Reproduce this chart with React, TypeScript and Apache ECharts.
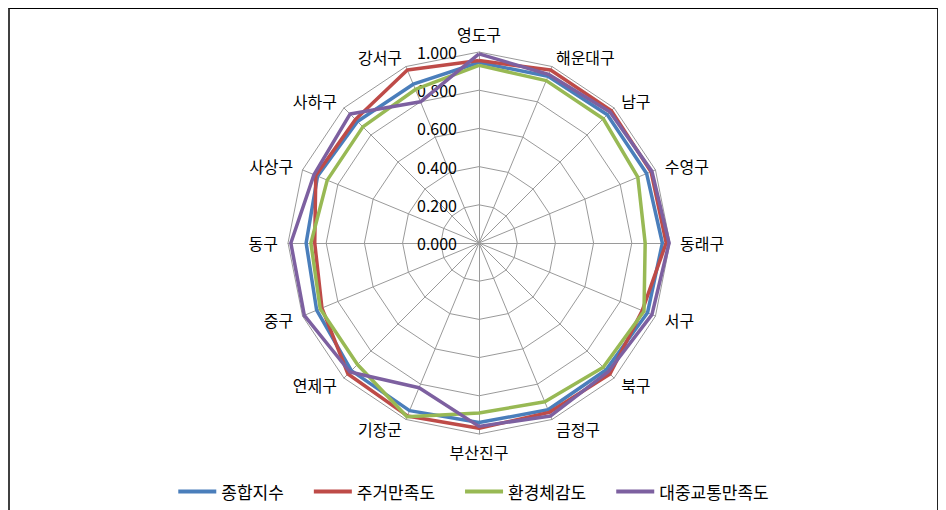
import React, { useEffect, useRef } from "react";
import * as echarts from "echarts";

// Indicators in clockwise order, starting from the top
const indicators = [
  "영도구", "해운대구", "남구", "수영구", "동래구", "서구", "북구", "금정구",
  "부산진구", "기장군", "연제구", "중구", "동구", "사상구", "사하구", "강서구",
];

const seriesNames = ["종합지수", "주거만족도", "환경체감도", "대중교통만족도"];

const compositeIndex = [0.945, 0.945, 0.95, 0.95, 0.96, 0.955, 0.94, 0.945, 0.94, 0.95, 0.945, 0.92, 0.905, 0.915, 0.9, 0.9];
const housingSatisfaction = [0.955, 0.98, 0.98, 0.975, 0.98, 0.925, 0.97, 0.96, 0.97, 0.98, 0.97, 0.89, 0.86, 0.925, 0.915, 0.98];
const environmentPerception = [0.93, 0.92, 0.92, 0.9, 0.87, 0.935, 0.92, 0.9, 0.89, 0.985, 0.9, 0.9, 0.88, 0.86, 0.86, 0.87];
const transitSatisfaction = [0.99, 0.955, 0.97, 0.98, 0.995, 0.98, 0.955, 0.98, 0.96, 0.82, 0.955, 0.99, 0.985, 0.935, 0.955, 0.8];

const axisMin = 0;
const axisMax = 1;
const splitCount = 5;

const colors = ["#4A7EBB", "#BE4B48", "#98B954", "#7D60A0"];

// ECharts radar runs counter-clockwise; reorder so the picture runs clockwise
const order = indicators.map((_, i) => (i === 0 ? 0 : indicators.length - i));

export default function App() {
  const ref = useRef<HTMLDivElement>(null);

  useEffect(() => {
    if (!ref.current) return;
    const chart = echarts.init(ref.current, undefined, { renderer: "svg" });
    const allData = [compositeIndex, housingSatisfaction, environmentPerception, transitSatisfaction];
    const font = "'Noto Sans CJK KR', 'Noto Sans', sans-serif";
    chart.setOption({
      animation: false,
      backgroundColor: "#ffffff",
      legend: {
        data: seriesNames,
        left: "center",
        top: 469,
        itemWidth: 38,
        itemHeight: 4,
        itemGap: 30,
        icon: "rect",
        textStyle: { fontSize: 17, color: "#000", fontFamily: font },
      },
      radar: {
        center: [469, 234],
        radius: 191,
        startAngle: 90,
        splitNumber: splitCount,
        shape: "polygon",
        nameGap: 10,
        axisName: { color: "#000", fontSize: 16, fontFamily: font },
        axisLine: { lineStyle: { color: "#9a9a9a", width: 1 } },
        splitLine: { lineStyle: { color: "#9a9a9a", width: 1 } },
        splitArea: { show: false },
        axisLabel: { show: false },
        indicator: order.map((idx, k) => ({
          name: indicators[idx],
          min: axisMin,
          max: axisMax,
          ...(k === 0
            ? {
                axisLabel: {
                  show: true,
                  color: "#000",
                  fontSize: 16,
                  fontFamily: font,
                  margin: 22,
                  formatter: (v: number) => v.toFixed(3),
                },
              }
            : {}),
        })),
      },
      series: [
        {
          type: "radar",
          symbol: "none",
          data: seriesNames.map((name, s) => ({
            name,
            value: order.map((idx) => allData[s][idx]),
            lineStyle: { color: colors[s], width: 3.5 },
            itemStyle: { color: colors[s] },
          })),
        },
      ],
    });
    return () => chart.dispose();
  }, []);

  return (
    <div
      style={{
        width: 930,
        height: 502,
        boxSizing: "border-box",
        borderTop: "1px solid #000",
        borderLeft: "2px solid #404040",
        borderRight: "1px solid #222",
        background: "#fff",
      }}
    >
      <div ref={ref} style={{ width: 927, height: 501 }} />
    </div>
  );
}
